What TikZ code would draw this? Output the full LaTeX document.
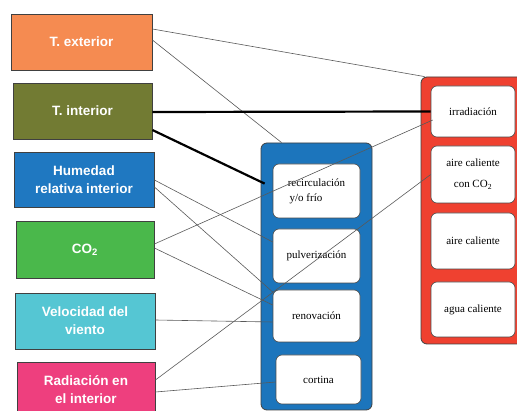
\documentclass[tikz,border=0pt]{standalone}
\usepackage{fontspec}
\setmainfont{Liberation Serif}
\newfontfamily\lsans{Liberation Sans}
\usetikzlibrary{calc}
\definecolor{corange}{HTML}{F58B51}
\definecolor{colive}{HTML}{727B33}
\definecolor{cblueb}{HTML}{1F78C1}
\definecolor{cgreen}{HTML}{4AB84B}
\definecolor{ccyan}{HTML}{55C6D3}
\definecolor{cpink}{HTML}{EE3F7E}
\definecolor{cred}{HTML}{EF4130}
\definecolor{cbluec}{HTML}{1C75BC}
\begin{document}
\begin{tikzpicture}[x=1pt,y=-1pt,
  src/.style={draw=black!75, line width=0.8pt, text=white, font=\lsans\bfseries\fontsize{13.5}{18}\selectfont, align=center, inner sep=0pt},
  cont/.style={draw=black!75, line width=0.8pt, rounded corners=6pt, inner sep=0pt},
  opt/.style={draw=black!70, fill=white, line width=0.6pt, rounded corners=6pt, font=\fontsize{11}{14}\selectfont, align=center, inner sep=0pt},
  link/.style={draw=black!65, line width=0.6pt},
  heavy/.style={draw=black, line width=2.2pt}]
\useasboundingbox (0,0) rectangle (517,411);
\clip (0,0) rectangle (517,411);
% source boxes
\node[src, fill=corange, minimum width=141pt, minimum height=56pt] (tex) at (81.5,42) {T. exterior};
\node[src, fill=colive, minimum width=139pt, minimum height=56pt] (tin) at (82.5,111) {T. interior};
\node[src, fill=cblueb, minimum width=140pt, minimum height=55pt] (hum) at (84,179.5) {Humedad\\relativa interior};
\node[src, fill=cgreen, minimum width=138pt, minimum height=57pt] (co) at (85,249.5) {CO\textsubscript{2}};
\node[src, fill=ccyan, minimum width=140pt, minimum height=56pt] (vel) at (85,321) {Velocidad del\\viento};
\node[src, fill=cpink, minimum width=138pt, minimum height=56pt] (rad) at (86,390) {Radiación en\\el interior};
% containers
\node[cont, fill=cbluec, minimum width=111pt, minimum height=267pt] (bluec) at (316.5,276.5) {};
\node[cont, fill=cred, minimum width=106pt, minimum height=267pt] (redc) at (474,210.5) {};
% blue options
\node[opt, align=left, minimum width=87pt, minimum height=54pt] (rec) at (316.5,191) {recirculación\\[1pt]\,y/o frío};
\node[opt, minimum width=87pt, minimum height=54pt] (pul) at (316.5,256) {pulverización};
\node[opt, minimum width=87pt, minimum height=52pt] (ren) at (316.5,316) {renovación};
\node[opt, minimum width=85pt, minimum height=49pt] (cor) at (318.5,379.5) {cortina};
% red options
\node[opt, minimum width=84pt, minimum height=51pt] (irr) at (473,111.5) {irradiación};
\node[opt, minimum width=84pt, minimum height=57pt] (acc) at (473,174.5) {aire caliente\\[7pt]con CO\textsubscript{2}};
\node[opt, minimum width=84pt, minimum height=56pt] (ac) at (473,241) {aire caliente};
\node[opt, minimum width=84pt, minimum height=55pt] (agu) at (473,309.5) {\raisebox{-5pt}{agua caliente}};
% connectors
\draw[link] ($(tex.east)+(0,-13)$) -- ($(redc.north west)+(4,0)$);
\draw[link] ($(tex.east)+(0,-2)$) -- ($(bluec.north west)+(21,0)$);
\draw[heavy] ($(tin.east)+(0,1)$) -- (irr.west);
\draw[heavy] ($(tin.east)+(0,19)$) -- ($(bluec.north west)+(4,41)$);
\draw[link] ($(hum.east)+(0,0.5)$) -- ($(pul.west)+(0,-14)$);
\draw[link] ($(hum.east)+(0,7.5)$) -- ($(ren.west)+(0,-24)$);
\draw[link] ($(co.east)+(0,-5.5)$) -- ($(irr.west)+(2,8.5)$);
\draw[link] ($(co.east)+(0,-1.5)$) -- ($(ren.west)+(0,-11)$);
\draw[link] ($(vel.east)+(0,-1)$) -- ($(ren.west)+(0,6)$);
\draw[link] ($(rad.east)+(0,-10)$) -- (acc.west);
\draw[link] ($(rad.east)+(0,2)$) -- ($(cor.west)+(0,2.5)$);
\end{tikzpicture}
\end{document}
